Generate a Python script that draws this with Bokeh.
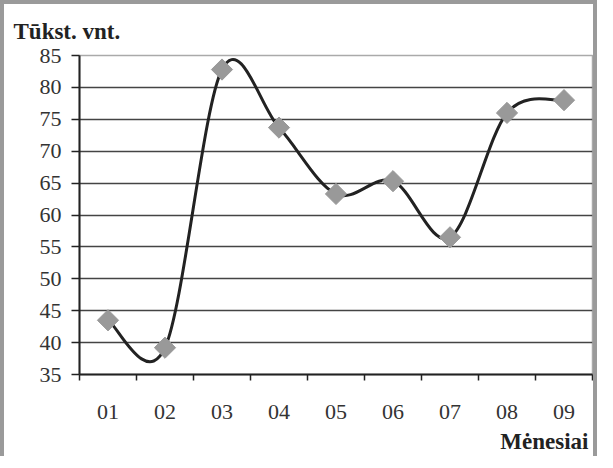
import numpy as np
from bokeh.plotting import figure
from bokeh.models import FixedTicker, Title, Range1d, ColumnDataSource
from bokeh.embed import file_html
from bokeh.resources import INLINE

months = ["01", "02", "03", "04", "05", "06", "07", "08", "09"]
values = [43.5, 39.2, 82.8, 73.7, 63.3, 65.3, 56.5, 76.0, 78.0]
y_ticks = [35, 40, 45, 50, 55, 60, 65, 70, 75, 80, 85]
y_title = "Tūkst. vnt."
x_title = "Mėnesiai"

n = len(months)
xs = np.arange(n, dtype=float)
ys = np.array(values, dtype=float)

p = figure(width=597, height=456, output_backend="svg", toolbar_location=None,
           x_range=Range1d(-0.5, n - 0.5), y_range=Range1d(y_ticks[0], y_ticks[-1]),
           min_border_left=75, min_border_right=9, min_border_top=51, min_border_bottom=86,
           background_fill_color="white", border_fill_color="white",
           outline_line_color="#aaaaaa", outline_line_width=1.5)
p.styles = {"border-left": "4px solid #9a9a9a", "border-top": "4px solid #9a9a9a",
            "border-right": "4px solid #9a9a9a"}

# x axis: labels at category centres, ticks at category boundaries
p.xaxis.ticker = FixedTicker(ticks=list(xs), minor_ticks=[i - 0.5 for i in range(n + 1)])
p.xaxis.major_label_overrides = {int(i): m for i, m in zip(xs, months)}
p.xaxis.major_tick_out = 0
p.xaxis.major_tick_in = 0
p.xaxis.minor_tick_out = 6
p.xaxis.minor_tick_in = 0
p.xaxis.minor_tick_line_color = "#222222"
p.xaxis.minor_tick_line_width = 1.5
p.xaxis.axis_line_color = "#222222"
p.xaxis.axis_line_width = 2
p.xaxis.major_label_text_font = "Liberation Serif"
p.xaxis.major_label_text_font_size = "22px"
p.xaxis.major_label_text_color = "#333333"
p.xaxis.major_label_standoff = 24

# y axis
p.yaxis.ticker = FixedTicker(ticks=y_ticks)
p.yaxis.major_tick_out = 8
p.yaxis.major_tick_in = 0
p.yaxis.minor_tick_line_color = None
p.yaxis.major_tick_line_color = "#222222"
p.yaxis.major_tick_line_width = 1.5
p.yaxis.axis_line_color = "#222222"
p.yaxis.axis_line_width = 2
p.yaxis.major_label_text_font = "Liberation Serif"
p.yaxis.major_label_text_font_size = "22px"
p.yaxis.major_label_text_color = "#333333"
p.yaxis.major_label_standoff = 10

p.xgrid.visible = False
p.ygrid.ticker = FixedTicker(ticks=y_ticks[1:-1])
p.ygrid.grid_line_color = "#444444"
p.ygrid.grid_line_width = 1.5

# smoothed line (Catmull-Rom through the data points, drawn as bezier segments)
x0, y0, x1, y1, cx0, cy0, cx1, cy1 = ([] for _ in range(8))
for i in range(n - 1):
    a = max(i - 1, 0)
    d = min(i + 2, n - 1)
    x0.append(xs[i]); y0.append(ys[i]); x1.append(xs[i + 1]); y1.append(ys[i + 1])
    cx0.append(xs[i] + (xs[i + 1] - xs[a]) / 6.0)
    cy0.append(ys[i] + (ys[i + 1] - ys[a]) / 6.0)
    cx1.append(xs[i + 1] - (xs[d] - xs[i]) / 6.0)
    cy1.append(ys[i + 1] - (ys[d] - ys[i]) / 6.0)
bez = ColumnDataSource(dict(x0=x0, y0=y0, x1=x1, y1=y1, cx0=cx0, cy0=cy0, cx1=cx1, cy1=cy1))
p.bezier(x0="x0", y0="y0", x1="x1", y1="y1", cx0="cx0", cy0="cy0", cx1="cx1", cy1="cy1",
         source=bez, line_color="#222222", line_width=3)

p.scatter(xs, ys, marker="square", size=15, angle=np.pi / 4,
          fill_color="#999999", line_color="#999999")

p.add_layout(Title(text=y_title, align="left", offset=-66, standoff=24,
                   text_font="Liberation Serif", text_font_style="bold",
                   text_font_size="23px", text_color="#222222"), "above")
p.add_layout(Title(text=x_title, align="right", offset=4, standoff=10,
                   text_font="Liberation Serif", text_font_style="bold",
                   text_font_size="23px", text_color="#222222"), "below")

open("out.html", "w").write(file_html(p, INLINE))
